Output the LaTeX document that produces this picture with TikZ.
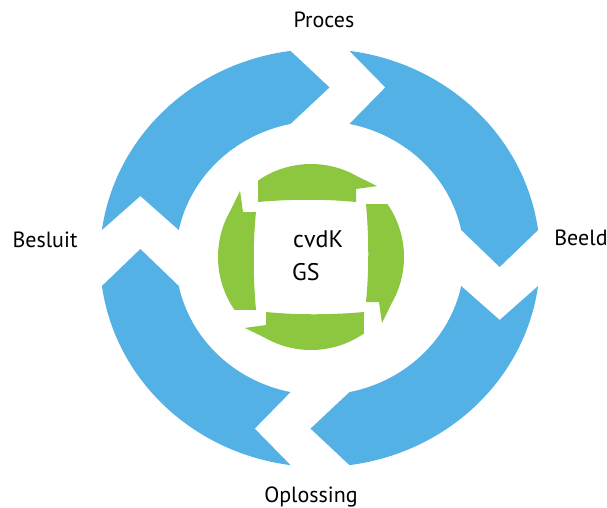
\documentclass[tikz,border=0pt]{standalone}
\usepackage{fontspec}
\setmainfont{PT Sans}
\definecolor{ringblue}{RGB}{83,177,230}
\definecolor{ringgreen}{RGB}{141,198,63}
\begin{document}
\begin{tikzpicture}[x=1pt,y=1pt,
  lbl/.style={font=\fontsize{22}{26}\selectfont, inner sep=0pt, text=black},
  ctr/.style={font=\fontsize{24}{28}\selectfont, inner sep=0pt, text=black},
  bluepart/.style={fill=ringblue},
  greenpart/.style={fill=ringgreen}]
\useasboundingbox (0,0) rectangle (607,-507);
% blue outer ring: four clockwise arrow segments
\begin{scope}[shift={(320,-258)}, xscale=1.053]
  \foreach \r in {0,-90,-180,-270}{
    \path[bluepart, rotate=\r] (82.30:209) arc[start angle=82.30, end angle=7.70, radius=209]
      -- (170.6,-9) -- (11.79:137) arc[start angle=11.79, end angle=78.21, radius=137]
      -- (62,170.6) -- cycle;
  }
\end{scope}
% green inner ring
\begin{scope}[shift={(311,-257)}]
  \foreach \r in {0,-90,-180,-270}{
    \path[greenpart, rotate=\r] (124.7:93) arc[start angle=124.7, end angle=60, radius=93]
      -- (47:97) -- (45,68) -- (45,55)
      .. controls (15,58) and (-20,58) .. (-53,55) -- cycle;
  }
\end{scope}
\node[lbl, anchor=base] (proces) at (324,-27) {Proces};
\node[lbl, anchor=base] (beeld) at (581,-245) {Beeld};
\node[lbl, anchor=base] (besluit) at (45,-247) {Besluit};
\node[lbl, anchor=base] (oplossing) at (311,-502) {Oplossing};
\node[ctr, anchor=base west] (cvdk) at (293,-247) {cvdK};
\node[ctr, anchor=base west] (gs) at (292,-280) {GS};
\end{tikzpicture}
\end{document}
